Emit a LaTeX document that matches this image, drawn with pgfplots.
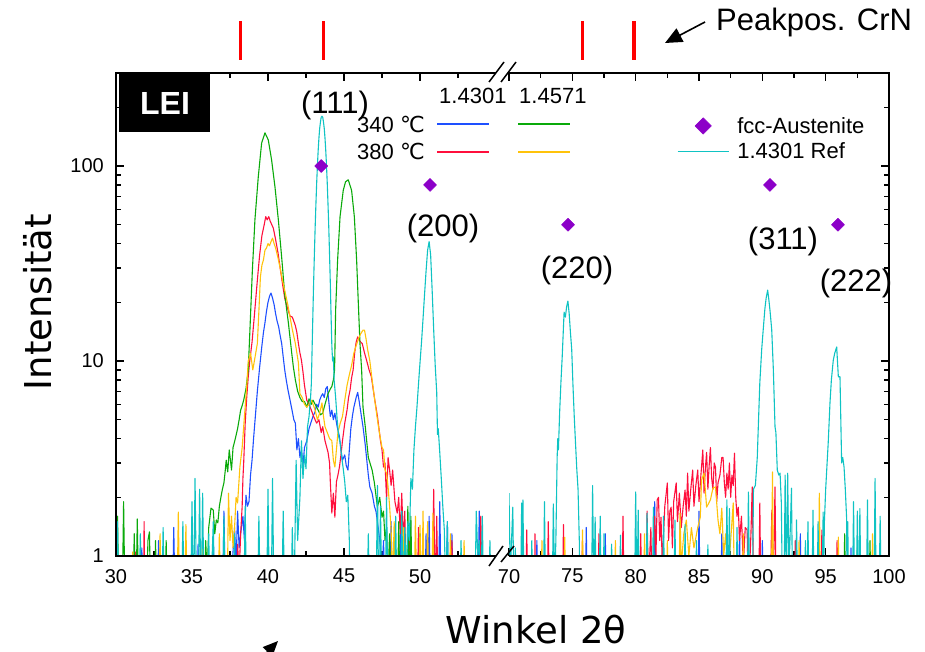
\documentclass[border=0pt]{standalone}
\usepackage{fontspec}
\setmainfont{Liberation Sans}
\newfontfamily\dejavu{DejaVu Sans}
\usepackage{pgfplots}
\pgfplotsset{compat=1.18}
\usetikzlibrary{arrows.meta}

\definecolor{cblue}{RGB}{30,80,255}
\definecolor{cgreen}{RGB}{10,170,10}
\definecolor{cred}{RGB}{255,15,60}
\definecolor{cyel}{RGB}{255,195,10}
\definecolor{ccyan}{RGB}{15,195,195}
\definecolor{cpurp}{RGB}{140,0,200}

\pgfplotsset{
  leglineimg/.style={legend image code/.code={\draw[##1] (0pt,0pt) -- (51pt,0pt);}},
  legmarkimg/.style={legend image code/.code={\path (0pt,0pt) (51pt,0pt); \draw[##1, mark size=5.8pt] plot coordinates {(25.5pt,0pt)};}},
}

\begin{document}
\begin{tikzpicture}
\path[use as bounding box] (0pt,0pt) rectangle (925pt,-652pt);

% ---------------- left panel ----------------
\begin{axis}[at={(116pt,-556pt)}, anchor=south west, scale only axis, width=380pt, height=483pt,
    ymode=log, ymin=1, ymax=300, xmin=30, xmax=55,
    axis line style={draw=none},
    tick align=inside, major tick length=8pt, minor tick length=5pt,
    tick style={black, line width=1.2pt},
    xtick pos=both, ytick pos=left,
    ticklabel style={font=\fontsize{20}{24}\selectfont},
    xticklabel style={inner sep=0pt, anchor=north, yshift=-13pt},
    yticklabel style={inner sep=0pt, anchor=east, xshift=-12pt},
    ytick={1,10,100}, yticklabels={1,10,100},
    minor ytick={2,3,4,5,6,7,8,9,20,30,40,50,60,70,80,90,200,300},
    xtick={30,35,40,45,50}, xticklabels={30,35,40,45,50},
    minor xtick={32.5,37.5,42.5,47.5,52.5},
    every axis plot/.append style={line width=1.1pt, line join=round}]
% 1.4301 340 C (blue)
\addplot[cblue] coordinates {(30.0,0.5)(31.6,0.5)(31.7,1.1)(31.8,0.5)(32.7,0.5)(32.8,1.2)(32.9,0.5)(33.7,0.5)(33.8,1.4)(33.9,0.5)(35.3,0.5)(35.4,1.15)(35.5,0.5)(36.3,0.5)(36.4,1.25)(36.5,0.5)(37.0,0.5)(37.1,1.7)(37.2,0.6)(37.4,0.5)(37.6,0.8)(37.8,1.4)(37.9,0.9)(38.0,1.7)(38.1,1.1)(38.2,1.3)(38.35,1.6)(38.45,1.2)(38.55,2.05)(38.65,1.8)(38.75,1.9)(38.85,2.6)(38.95,3.1)(39.05,4.0)(39.15,5.0)(39.3,7)(39.45,9.3)(39.6,12)(39.7,14)(39.8,15.7)(39.9,18)(40.0,20)(40.1,21.5)(40.2,22.3)(40.3,21)(40.4,19.5)(40.5,17.5)(40.6,16)(40.7,15)(40.8,13.5)(40.9,12.3)(41.0,10.5)(41.1,9)(41.2,8)(41.3,7.2)(41.45,6.3)(41.6,5.5)(41.7,5.0)(41.8,4.8)(41.9,3.5)(42.0,4.0)(42.1,3.2)(42.2,3.5)(42.3,2.9)(42.4,3.6)(42.55,3.9)(42.7,4.5)(42.85,4.9)(42.96,5.2)(43.1,5.5)(43.2,6.0)(43.3,5.8)(43.4,6.3)(43.5,6.6)(43.6,6.8)(43.7,6.5)(43.8,7.2)(43.9,7.4)(44.0,6.2)(44.1,5.2)(44.2,5.6)(44.3,5.0)(44.4,5.4)(44.55,4.6)(44.7,4.1)(44.8,3.5)(44.9,3.1)(45.05,3.3)(45.15,2.9)(45.26,2.76)(45.35,3.5)(45.45,4.5)(45.55,5.2)(45.65,5.8)(45.8,6.5)(45.9,6.9)(46.0,6.2)(46.1,5.5)(46.25,4.6)(46.4,3.7)(46.5,3.1)(46.6,2.6)(46.7,2.26)(46.85,2.1)(47.0,1.8)(47.1,1.7)(47.2,1.5)(47.3,1.3)(47.4,1.1)(47.5,0.8)(47.6,1.2)(47.7,0.6)(48.0,0.5)(48.1,1.5)(48.2,0.5)(48.6,0.5)(48.7,1.3)(48.8,0.5)(49.2,0.5)(49.3,1.2)(49.4,0.5)(50.3,0.5)(50.4,1.3)(50.5,0.5)(50.6,1.6)(50.7,0.5)(51.2,0.5)(51.3,1.9)(51.4,0.5)(51.7,0.5)(51.8,1.5)(51.9,0.5)(52.0,0.5)(52.1,1.3)(52.2,0.5)(53.8,0.5)(53.9,1.7)(54.0,0.5)(55,0.5)};
% 1.4301 380 C (red)
\addplot[cred] coordinates {(30.0,0.5)(31.2,0.5)(31.3,1.05)(31.4,0.5)(31.8,0.5)(31.85,1.5)(31.9,0.5)(33.0,0.5)(33.1,1.1)(33.2,0.5)(35.6,0.5)(35.7,1.25)(35.8,0.5)(37.9,0.5)(38.0,1.15)(38.1,0.8)(38.2,1.3)(38.3,1.8)(38.35,2.5)(38.4,3.0)(38.45,3.8)(38.5,4.8)(38.6,6.5)(38.7,8.3)(38.8,10)(38.95,12.5)(39.1,17)(39.3,26)(39.45,35)(39.6,44)(39.75,50)(39.85,55)(39.95,53)(40.05,55)(40.15,52)(40.25,50)(40.35,48)(40.5,42)(40.66,35.8)(40.8,30)(40.95,25)(41.1,21)(41.3,18.5)(41.45,17)(41.6,16.8)(41.8,15.2)(41.9,14)(42.0,12.3)(42.1,11)(42.2,10.1)(42.3,8.8)(42.4,7.5)(42.55,6.3)(42.7,6.0)(42.85,5.6)(43.0,5.2)(43.2,4.8)(43.35,5.0)(43.5,4.3)(43.6,4.6)(43.75,3.9)(43.95,3.4)(44.05,3.0)(44.1,2.4)(44.2,1.66)(44.3,2.1)(44.4,1.58)(44.5,2.4)(44.6,2.6)(44.7,2.86)(44.8,3.3)(44.9,3.9)(45.05,4.8)(45.2,5.6)(45.3,6.5)(45.4,7.1)(45.5,8.2)(45.6,9)(45.7,11)(45.8,12.5)(45.9,13.3)(46.0,12.8)(46.1,12.5)(46.2,12.3)(46.35,11)(46.5,10)(46.65,9)(46.8,8.3)(47.0,6.5)(47.2,5.2)(47.4,3.9)(47.5,3.5)(47.6,2.86)(47.7,3.0)(47.8,1.94)(47.9,3.2)(48.0,2.76)(48.1,2.3)(48.2,2.76)(48.35,1.9)(48.5,1.66)(48.6,2.0)(48.7,1.3)(48.8,2.1)(48.9,1.2)(49.0,1.7)(49.1,0.6)(49.3,1.3)(49.4,0.5)(49.8,0.5)(49.9,1.4)(50.0,0.5)(50.8,0.5)(50.9,2.2)(51.0,0.6)(51.1,1.6)(51.2,0.5)(52.0,0.5)(52.1,1.2)(52.2,0.5)(53.9,0.5)(54.0,1.6)(54.1,0.5)(55,0.5)};
% 1.4571 340 C (green)
\addplot[cgreen] coordinates {(30.0,1.3)(30.1,1.6)(30.2,0.5)(30.4,0.5)(30.5,1.9)(30.6,0.5)(31.1,0.5)(31.2,1.3)(31.3,0.5)(31.4,1.55)(31.5,0.5)(32.0,0.5)(32.1,1.2)(32.2,1.33)(32.3,0.5)(32.5,0.5)(32.6,1.2)(32.7,0.5)(33.2,0.5)(33.3,1.2)(33.4,0.5)(34.5,0.5)(34.6,1.2)(34.7,0.5)(35.8,0.5)(35.9,1.2)(36.0,0.8)(36.1,1.4)(36.25,1.76)(36.4,1.72)(36.5,1.3)(36.6,1.53)(36.7,1.48)(36.8,1.8)(36.9,2.0)(37.0,2.2)(37.1,2.37)(37.2,2.8)(37.25,3.1)(37.35,2.7)(37.45,3.5)(37.55,3.0)(37.6,2.76)(37.7,3.6)(37.85,4.0)(38.0,4.5)(38.1,5.0)(38.2,5.6)(38.3,5.9)(38.4,6.3)(38.55,7.2)(38.7,9)(38.82,15)(38.97,29)(39.14,53)(39.36,88)(39.58,131)(39.8,148)(40.02,136)(40.24,107)(40.46,78)(40.68,53)(40.9,34)(41.1,22)(41.34,15.7)(41.56,11)(41.67,9.3)(41.8,8.0)(41.95,7.0)(42.1,6.5)(42.25,6.2)(42.4,6.2)(42.55,5.8)(42.7,6.4)(42.85,6.0)(42.96,6.3)(43.1,6.0)(43.3,5.6)(43.45,5.3)(43.6,5.4)(43.75,6.0)(43.95,6.8)(44.1,7.2)(44.2,7.4)(44.3,8.0)(44.38,9)(44.45,18.3)(44.58,33)(44.74,55)(44.95,75)(45.1,83)(45.28,85)(45.5,75)(45.68,55)(45.83,33)(45.94,20)(46.05,12.3)(46.16,9)(46.25,5.8)(46.4,4.6)(46.6,3.2)(46.85,2.76)(47.0,2.37)(47.2,1.78)(47.35,2.0)(47.5,1.58)(47.6,1.7)(47.7,1.2)(47.8,1.4)(47.9,0.8)(48.0,1.3)(48.1,0.5)(48.5,0.5)(48.6,1.5)(48.7,0.5)(49.1,0.5)(49.2,1.8)(49.3,0.7)(49.4,1.6)(49.5,0.5)(49.9,0.5)(50.0,1.3)(50.1,0.5)(55,0.5)};
% 1.4571 380 C (yellow)
\addplot[cyel] coordinates {(30.0,0.5)(31.0,0.5)(31.1,1.05)(31.2,0.5)(32.8,0.5)(32.9,1.3)(33.0,0.5)(34.0,0.5)(34.1,1.68)(34.2,0.5)(34.5,0.5)(34.6,1.45)(34.7,0.5)(35.6,0.5)(35.7,1.2)(35.8,0.5)(36.7,0.5)(36.8,1.3)(36.9,0.5)(37.3,0.5)(37.4,2.1)(37.5,1.2)(37.6,1.6)(37.7,1.1)(37.8,1.4)(37.9,2.0)(38.0,1.87)(38.15,2.86)(38.3,3.6)(38.45,5.2)(38.6,7.4)(38.7,10)(38.85,11)(39.0,9)(39.15,10.5)(39.3,12.3)(39.4,18)(39.5,27)(39.6,31)(39.7,33)(39.8,37)(39.9,38)(40.0,40)(40.1,39)(40.2,41)(40.3,42.7)(40.4,40)(40.5,38)(40.65,34)(40.8,30)(40.95,26)(41.1,23)(41.3,19.5)(41.45,16.8)(41.6,14.5)(41.8,12.3)(42.0,9.8)(42.1,6.8)(42.25,6.5)(42.4,6.0)(42.55,5.8)(42.7,6.0)(42.85,6.3)(43.0,5.9)(43.1,5.6)(43.25,5.0)(43.4,5.4)(43.55,6.1)(43.65,5.2)(43.75,4.6)(43.9,4.3)(44.05,4.0)(44.2,3.9)(44.3,3.1)(44.4,2.86)(44.5,3.5)(44.6,4.3)(44.75,4.8)(44.9,5.2)(45.05,6.3)(45.2,7.5)(45.35,8.5)(45.5,9.5)(45.65,11)(45.8,12)(45.95,13)(46.1,13.8)(46.25,14.4)(46.35,14.4)(46.45,13)(46.55,11.5)(46.7,10)(46.85,8)(47.0,6.5)(47.2,5.0)(47.35,4.2)(47.5,3.6)(47.6,3.5)(47.7,2.76)(47.8,2.66)(47.9,2.26)(48.0,1.8)(48.1,1.36)(48.2,0.7)(48.3,1.5)(48.4,0.6)(48.8,0.5)(48.9,1.4)(49.0,0.5)(49.6,0.5)(49.7,1.6)(49.8,0.5)(49.9,0.5)(50.0,1.44)(50.1,0.5)(50.2,1.7)(50.3,0.5)(50.4,0.5)(50.5,1.5)(50.6,0.5)(50.75,0.5)(50.85,1.66)(50.95,0.5)(51.9,0.5)(52.0,1.3)(52.1,0.5)(52.8,0.5)(52.9,1.2)(53.0,0.5)(55,0.5)};
% 1.4301 Ref (cyan)
\addplot[ccyan] coordinates {(30.0,0.5)(30.1,1.5)(30.2,0.5)(31.5,0.5)(31.6,1.3)(31.7,0.5)(33.0,0.5)(33.1,1.4)(33.2,0.5)(34.3,0.5)(34.4,1.5)(34.5,0.5)(34.9,0.5)(35.0,1.9)(35.1,0.5)(35.2,2.5)(35.3,0.6)(35.4,0.5)(35.5,2.2)(35.6,0.5)(35.7,2.1)(35.8,0.5)(36.0,0.5)(36.1,1.3)(36.2,0.5)(36.4,1.5)(36.5,0.5)(37.0,0.5)(37.1,1.6)(37.2,0.5)(37.7,0.5)(37.8,1.3)(37.9,0.5)(38.4,0.5)(38.5,1.8)(38.6,0.5)(39.3,0.5)(39.4,1.6)(39.5,0.5)(39.9,0.5)(40.0,2.2)(40.1,0.5)(40.2,0.5)(40.3,2.5)(40.4,0.5)(40.9,0.5)(41.0,1.7)(41.1,0.5)(41.5,0.5)(41.6,1.4)(41.7,0.5)(41.85,3.1)(41.95,1.2)(42.1,2.0)(42.2,3.9)(42.3,2.5)(42.4,3.3)(42.5,2.8)(42.6,4.6)(42.7,5.2)(42.8,6.5)(42.85,7.6)(42.9,11.4)(42.95,17)(43.0,25)(43.05,35)(43.1,48)(43.15,63)(43.2,81)(43.25,100)(43.3,120)(43.35,139)(43.4,156)(43.45,168)(43.5,178)(43.55,180)(43.6,178)(43.65,168)(43.7,156)(43.75,139)(43.8,120)(43.85,100)(43.9,81)(43.95,63)(44.0,48)(44.05,35)(44.1,25)(44.15,17)(44.2,12)(44.25,10)(44.3,10.5)(44.35,8)(44.45,6.5)(44.55,5)(44.65,4.1)(44.75,3.8)(44.85,3.2)(44.95,2.8)(45.05,2.4)(45.15,1.9)(45.25,2.05)(45.35,1.2)(45.4,0.5)(46.5,0.5)(46.6,1.3)(46.7,0.5)(47.1,0.5)(47.2,2.3)(47.3,0.5)(47.4,1.8)(47.5,0.5)(47.7,0.5)(47.8,2.0)(47.9,0.5)(48.3,0.5)(48.4,1.6)(48.5,0.5)(48.7,0.5)(48.8,1.7)(48.9,0.6)(49.0,1.4)(49.1,0.7)(49.2,1.5)(49.3,1.2)(49.4,2.5)(49.5,2.2)(49.6,3.5)(49.7,4.6)(49.8,5.8)(49.9,7.6)(50.0,9.8)(50.1,12.5)(50.2,16.5)(50.3,22)(50.4,29)(50.5,37)(50.6,41)(50.7,35)(50.8,23)(50.9,14.5)(51.0,9.5)(51.1,6.9)(51.15,4.2)(51.2,4.5)(51.3,3.4)(51.4,2.5)(51.5,1.8)(51.6,1.36)(51.7,0.6)(51.8,1.5)(51.9,0.5)(52.6,0.5)(52.7,1.2)(52.8,0.5)(53.6,0.5)(53.7,1.7)(53.8,1.0)(53.9,1.2)(54.0,0.6)(54.1,1.6)(54.2,0.5)(54.5,0.5)(54.6,1.2)(54.7,0.5)(55,0.5)};
% fcc-Austenite positions
\addplot[only marks, mark=square*, mark size=4.6pt, mark options={rotate=45, fill=cpurp, draw=cpurp, line width=0.5pt}] coordinates {(43.5,100)(50.66,80)};
\end{axis}

% ---------------- right panel ----------------
\begin{axis}[at={(509pt,-556pt)}, anchor=south west, scale only axis, width=380pt, height=483pt,
    ymode=log, ymin=1, ymax=300, xmin=70, xmax=100,
    axis line style={draw=none},
    tick align=inside, major tick length=8pt, minor tick length=5pt,
    tick style={black, line width=1.2pt},
    xtick pos=both, ytick pos=right,
    ticklabel style={font=\fontsize{20}{24}\selectfont},
    xticklabel style={inner sep=0pt, anchor=north, yshift=-13pt},
    ytick={1,10,100}, yticklabels={},
    minor ytick={2,3,4,5,6,7,8,9,20,30,40,50,60,70,80,90,200,300},
    xtick={70,75,80,85,90,95,100}, xticklabels={70,75,80,85,90,95,100},
    minor xtick={72.5,77.5,82.5,87.5,92.5,97.5},
    every axis plot/.append style={line width=1.1pt, line join=round},
    reverse legend,
    legend style={at={(0.442,0.913)}, anchor=north west,
      draw=none, fill=none, inner sep=0pt, row sep=4pt, column sep=6pt,
      font=\fontsize{22}{26}\selectfont},
    legend cell align=left]
\addplot[cblue, forget plot] coordinates {(70,0.5)(72.1,0.5)(72.2,1.2)(72.3,0.5)(76.0,0.5)(76.1,1.4)(76.2,0.5)(77.5,0.5)(77.6,1.3)(77.7,0.5)(81.4,0.5)(81.5,1.9)(81.6,0.5)(83.4,0.5)(83.5,1.5)(83.6,0.5)(84.9,0.5)(85.0,1.7)(85.1,0.5)(86.7,0.5)(86.8,1.3)(86.9,0.5)(88.1,0.5)(88.2,1.4)(88.3,0.5)(89.9,0.5)(90.0,1.2)(90.1,0.5)(92.9,0.5)(93.0,1.3)(93.1,0.5)(96.9,0.5)(97.0,1.1)(97.1,0.5)(100,0.5)};
\addplot[cred, forget plot] coordinates {(70.0,0.5)(71.3,0.5)(71.4,1.36)(71.5,0.5)(72.0,0.5)(72.05,1.3)(72.1,0.5)(73.0,0.5)(73.1,1.5)(73.2,0.5)(74.2,0.5)(74.3,1.45)(74.4,0.5)(75.7,0.5)(75.8,1.2)(75.9,0.5)(77.0,0.5)(77.1,1.3)(77.2,0.5)(78.9,0.5)(79.0,1.6)(79.1,0.5)(80.3,0.5)(80.4,1.3)(80.5,0.5)(80.8,0.5)(80.9,1.7)(81.0,0.7)(81.2,1.4)(81.3,0.6)(81.5,1.6)(81.6,1.0)(81.7,1.94)(81.8,2.0)(81.9,1.2)(82.0,1.58)(82.1,0.9)(82.3,1.8)(82.5,2.37)(82.6,1.2)(82.7,1.7)(82.8,1.78)(82.9,1.1)(83.0,1.9)(83.2,2.37)(83.3,1.5)(83.45,2.1)(83.6,1.4)(83.75,1.8)(83.9,2.18)(84.0,1.6)(84.1,2.66)(84.2,1.7)(84.35,2.2)(84.5,2.76)(84.6,1.8)(84.75,2.3)(84.9,2.76)(85.0,1.9)(85.15,2.6)(85.3,3.5)(85.4,2.1)(85.5,2.8)(85.6,3.4)(85.7,2.2)(85.8,2.9)(85.9,3.6)(86.0,2.5)(86.1,2.2)(86.2,3.0)(86.3,2.86)(86.4,1.9)(86.5,2.37)(86.65,2.6)(86.8,3.2)(86.9,3.2)(87.0,2.37)(87.1,2.0)(87.2,2.66)(87.3,2.2)(87.4,3.0)(87.5,2.0)(87.6,2.6)(87.7,2.3)(87.8,3.37)(87.9,2.0)(88.0,1.6)(88.1,1.78)(88.2,1.2)(88.35,1.6)(88.5,0.9)(88.65,1.4)(88.8,1.36)(88.9,0.6)(89.1,1.3)(89.2,2.26)(89.3,0.8)(89.5,0.5)(89.7,0.5)(89.8,1.87)(89.9,0.5)(90.6,0.5)(90.75,1.72)(90.85,0.6)(91.0,2.26)(91.1,0.5)(92.5,0.5)(92.6,1.2)(92.7,0.5)(94.6,0.5)(94.7,1.36)(94.8,0.5)(95.8,0.5)(95.9,1.2)(96.0,0.5)(100,0.5)};
\addplot[cgreen, forget plot] coordinates {(70,0.5)(83.0,0.5)(83.1,1.1)(83.2,0.5)(96.4,0.5)(96.5,1.3)(96.6,0.5)(97.4,0.5)(97.5,1.1)(97.6,0.5)(98.4,0.5)(98.5,1.2)(98.6,0.5)(100,0.5)};
\addplot[cyel, forget plot] coordinates {(70.0,0.5)(72.5,0.5)(72.6,1.2)(72.7,0.5)(74.3,0.5)(74.4,1.25)(74.5,0.5)(75.7,0.5)(75.8,1.36)(75.9,0.5)(78.3,0.5)(78.4,1.2)(78.5,0.5)(80.6,0.5)(80.7,1.3)(80.8,0.5)(82.4,0.5)(82.5,1.2)(82.6,0.5)(83.4,0.5)(83.5,1.66)(83.6,0.9)(83.8,1.3)(84.0,1.53)(84.2,1.0)(84.4,1.4)(84.6,1.1)(84.9,1.4)(85.1,1.58)(85.2,2.45)(85.4,2.66)(85.6,1.78)(85.9,1.94)(86.1,2.23)(86.3,2.26)(86.5,1.53)(86.65,1.3)(86.8,1.76)(86.95,1.0)(87.1,1.3)(87.3,0.8)(87.5,1.2)(87.7,1.87)(87.8,0.6)(88.0,0.5)(88.4,0.5)(88.5,1.3)(88.6,0.5)(90.7,0.5)(90.8,2.7)(90.9,0.5)(92.8,0.5)(92.9,1.2)(93.0,0.5)(94.4,0.5)(94.5,2.1)(94.6,0.5)(95.9,0.5)(96.0,1.25)(96.1,0.5)(98.6,0.5)(98.7,1.3)(98.8,0.5)(100,0.5)};
\addplot[ccyan, leglineimg] coordinates {(70.0,2.1)(70.1,0.8)(70.2,1.2)(70.3,1.78)(70.4,0.5)(70.5,1.1)(70.6,0.5)(70.9,0.5)(71.0,1.87)(71.05,0.9)(71.1,1.94)(71.2,0.5)(71.7,0.5)(71.8,1.2)(71.9,0.5)(72.7,0.5)(72.8,1.9)(72.9,0.5)(73.4,0.5)(73.5,1.85)(73.6,0.7)(73.7,1.2)(73.8,3.2)(73.85,4.0)(73.9,3.5)(74.0,5.5)(74.1,7.8)(74.2,10.5)(74.3,15)(74.35,17.8)(74.45,16.8)(74.55,19)(74.65,20.3)(74.75,17.5)(74.85,14)(74.95,11.5)(75.05,7.5)(75.15,5.2)(75.25,3.8)(75.35,2.8)(75.45,2.2)(75.55,1.2)(75.6,0.5)(76.5,0.5)(76.6,2.3)(76.7,0.6)(76.8,1.58)(76.9,0.5)(77.1,0.5)(77.2,1.6)(77.3,0.5)(77.4,0.5)(77.5,1.3)(77.6,0.5)(78.0,0.5)(78.1,1.15)(78.2,0.5)(78.7,0.5)(78.8,1.28)(78.9,0.5)(79.9,0.5)(80.0,2.13)(80.1,0.6)(80.2,1.72)(80.3,0.5)(80.8,0.5)(80.9,1.66)(81.0,0.5)(81.3,0.5)(81.4,1.78)(81.5,0.5)(82.1,0.5)(82.2,1.6)(82.3,0.5)(83.0,0.5)(83.1,1.53)(83.2,0.5)(83.8,0.5)(83.9,1.45)(84.0,0.5)(84.7,0.5)(84.8,1.2)(84.9,0.5)(85.6,0.5)(85.7,1.14)(85.8,0.5)(87.1,0.5)(87.2,1.94)(87.3,0.6)(87.4,1.75)(87.5,0.5)(87.9,0.5)(88.0,1.4)(88.1,0.5)(88.8,0.5)(88.9,2.13)(89.0,0.6)(89.2,0.5)(89.3,2.2)(89.45,2.3)(89.6,3.2)(89.7,5)(89.8,7.7)(89.95,11.5)(90.07,14.5)(90.2,18.5)(90.3,21)(90.42,23.1)(90.5,21)(90.6,18.3)(90.74,14.5)(90.87,9)(91.0,4.6)(91.07,4.3)(91.18,2.76)(91.3,2.6)(91.4,2.66)(91.5,1.87)(91.6,0.5)(91.7,0.5)(91.8,2.6)(91.9,0.7)(92.0,2.66)(92.1,0.8)(92.3,2.23)(92.4,0.5)(92.6,0.5)(92.7,1.53)(92.8,0.5)(93.3,0.5)(93.4,1.2)(93.5,0.5)(93.6,1.5)(93.7,0.5)(93.9,0.5)(94.0,1.72)(94.1,0.5)(94.3,0.5)(94.4,1.5)(94.5,0.5)(94.7,0.5)(94.8,1.68)(94.85,0.9)(94.9,1.5)(95.0,2.2)(95.1,2.9)(95.2,3.8)(95.34,6.1)(95.45,8)(95.6,10.1)(95.72,11)(95.87,11.8)(96.0,8.3)(96.13,8.3)(96.26,3.0)(96.35,3.2)(96.45,2.86)(96.55,2.2)(96.65,1.58)(96.7,0.5)(96.75,1.5)(96.8,0.5)(97.1,0.5)(97.2,1.9)(97.3,0.5)(97.4,0.5)(97.5,1.7)(97.6,0.5)(97.7,1.75)(97.8,0.5)(98.2,0.5)(98.3,1.94)(98.4,0.5)(98.8,0.5)(98.9,2.5)(99.0,0.5)(99.2,0.5)(99.3,1.6)(99.4,0.5)(100,0.5)};
\addlegendentry{1.4301 Ref}
\addplot[only marks, mark=square*, mark size=4.6pt, mark options={rotate=45, fill=cpurp, draw=cpurp, line width=0.5pt}, legmarkimg] coordinates {(74.66,50)(90.6,80)(95.97,50)};
\addlegendentry{fcc-Austenite}
\end{axis}

% ---------------- CrN peak positions (above the frame) ----------------
\begin{axis}[at={(116pt,-556pt)}, anchor=south west, scale only axis, width=380pt, height=483pt,
    ymode=log, ymin=1, ymax=300, xmin=30, xmax=55, hide axis, clip=false]
\addplot[red, line width=3.5pt] coordinates {(38.2,350)(38.2,555)};
\addplot[red, line width=3.5pt] coordinates {(43.66,350)(43.66,555)};
\end{axis}
\begin{axis}[at={(509pt,-556pt)}, anchor=south west, scale only axis, width=380pt, height=483pt,
    ymode=log, ymin=1, ymax=300, xmin=70, xmax=100, hide axis, clip=false]
\addplot[red, line width=3.5pt] coordinates {(75.79,350)(75.79,555)};
\addplot[red, line width=3.5pt] coordinates {(79.85,350)(79.85,555)};
\end{axis}

% ---------------- frame, break, annotations ----------------
\begin{scope}[x=1pt, y=-1pt]
\draw[line width=2pt, line join=miter] (496,73) -- (116,73) -- (116,556) -- (496,556);
\draw[line width=2pt, line join=miter] (509,73) -- (889,73) -- (889,556) -- (509,556);
\draw[line width=1.5pt] (489,82) -- (504,62);
\draw[line width=1.5pt] (501,82) -- (516,62);
\draw[line width=1.5pt] (489,566) -- (503,546);
\draw[line width=1.5pt] (501,562) -- (514,546);

\fill[black] (119,73) rectangle (210,132);
\node[text=white, font=\bfseries\fontsize{32}{36}\selectfont, inner sep=0pt] at (165,103) {LEI};

\begin{scope}[every node/.style={inner sep=0pt, font=\fontsize{31}{36}\selectfont}]
\node at (335,105) {(111)};
\node at (443,228) {(200)};
\node at (577,270) {(220)};
\node at (783,241) {(311)};
\node at (856,283) {(222)};
\end{scope}

\node[anchor=base west, inner sep=0pt, font=\fontsize{31}{36}\selectfont] at (716,31) {Peakpos. CrN};
\draw[line width=1.6pt, -{Triangle[length=17pt,width=15pt]}] (705,22) -- (665,43);
\draw[line width=1.6pt, -{Triangle[length=15pt,width=13pt]}] (245,675) -- (278,641);

\begin{scope}[every node/.style={inner sep=0pt, anchor=base west, font=\fontsize{22}{26}\selectfont}]
\node at (439,104) {1.4301};
\node at (519,104) {1.4571};
\node at (357,133) {340 {\dejavu ℃}};
\node at (357,160) {380 {\dejavu ℃}};
\end{scope}
\draw[cblue, line width=1.2pt] (437,124) -- (489,124);
\draw[cgreen, line width=1.2pt] (518,124) -- (570,124);
\draw[cred, line width=1.2pt] (437,152) -- (489,152);
\draw[cyel, line width=1.2pt] (518,152) -- (570,152);

\node[anchor=base, rotate=90, inner sep=0pt, font=\dejavu\fontsize{37}{43}\selectfont] at (51,302) {Intensität};
\node[anchor=base, inner sep=0pt, font=\dejavu\fontsize{37}{43}\selectfont] at (536,643) {Winkel 2θ};
\end{scope}
\end{tikzpicture}
\end{document}
